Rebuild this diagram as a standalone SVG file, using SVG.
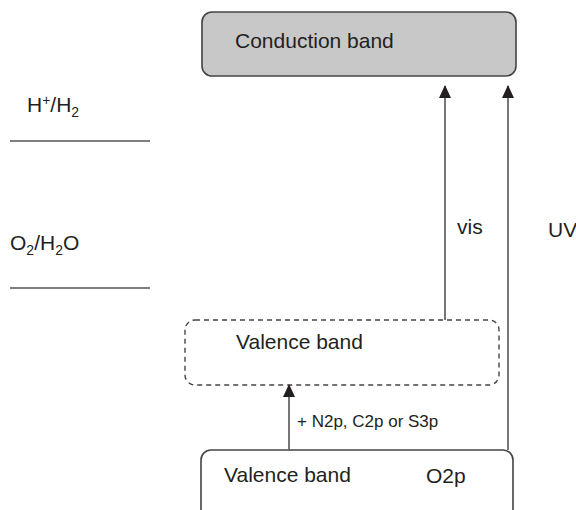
<svg xmlns="http://www.w3.org/2000/svg" width="576" height="510" viewBox="0 0 576 510">
<style>
text{font-family:"Liberation Sans",Arial,sans-serif;fill:#231f20;font-size:21px}
.s{font-size:17px}
.sub{font-size:14px}
.ln{stroke:#555;stroke-width:1.6;fill:none}
</style>
<defs>
<marker id="ah" viewBox="0 0 13 12" markerWidth="13" markerHeight="12" refX="12" refY="6" orient="auto" markerUnits="userSpaceOnUse">
<path d="M0 0 L13 6 L0 12 Z" fill="#231f20"/>
</marker>
</defs>
<rect width="576" height="510" fill="#fff"/>
<g id="conduction">
<rect x="202" y="12" width="314" height="64" rx="10" fill="#c8c8c8" stroke="#444" stroke-width="1.6"/>
<text x="235" y="48">Conduction band</text>
</g>
<g id="hh2">
<text x="27" y="112">H<tspan class="sub" dy="-7">+</tspan><tspan dy="7">/H</tspan><tspan class="sub" dy="5">2</tspan></text>
<line class="ln" x1="10" y1="141" x2="150" y2="141"/>
</g>
<g id="o2h2o">
<text x="10" y="250">O<tspan class="sub" dy="5">2</tspan><tspan dy="-5">/H</tspan><tspan class="sub" dy="5">2</tspan><tspan dy="-5">O</tspan></text>
<line class="ln" x1="10" y1="288" x2="150" y2="288"/>
</g>
<g id="valence-doped">
<rect x="185" y="320" width="314" height="65" rx="10" fill="none" stroke="#444" stroke-width="1.4" stroke-dasharray="5,4"/>
<text x="236" y="349">Valence band</text>
</g>
<g id="valence-o2p">
<rect x="201" y="450" width="312" height="80" rx="10" fill="#fff" stroke="#444" stroke-width="1.6"/>
<text x="224" y="482">Valence band</text>
<text x="426" y="483">O2p</text>
</g>
<g id="connectors">
<line class="ln" x1="289" y1="450" x2="289" y2="385" marker-end="url(#ah)"/>
<line class="ln" x1="445" y1="320" x2="445" y2="86" marker-end="url(#ah)"/>
<line class="ln" x1="508" y1="450" x2="508" y2="86" marker-end="url(#ah)"/>
</g>
<g id="labels">
<text class="s" x="297" y="427">+ N2p, C2p or S3p</text>
<text x="457" y="234">vis</text>
<text x="548" y="237">UV</text>
</g>
</svg>
